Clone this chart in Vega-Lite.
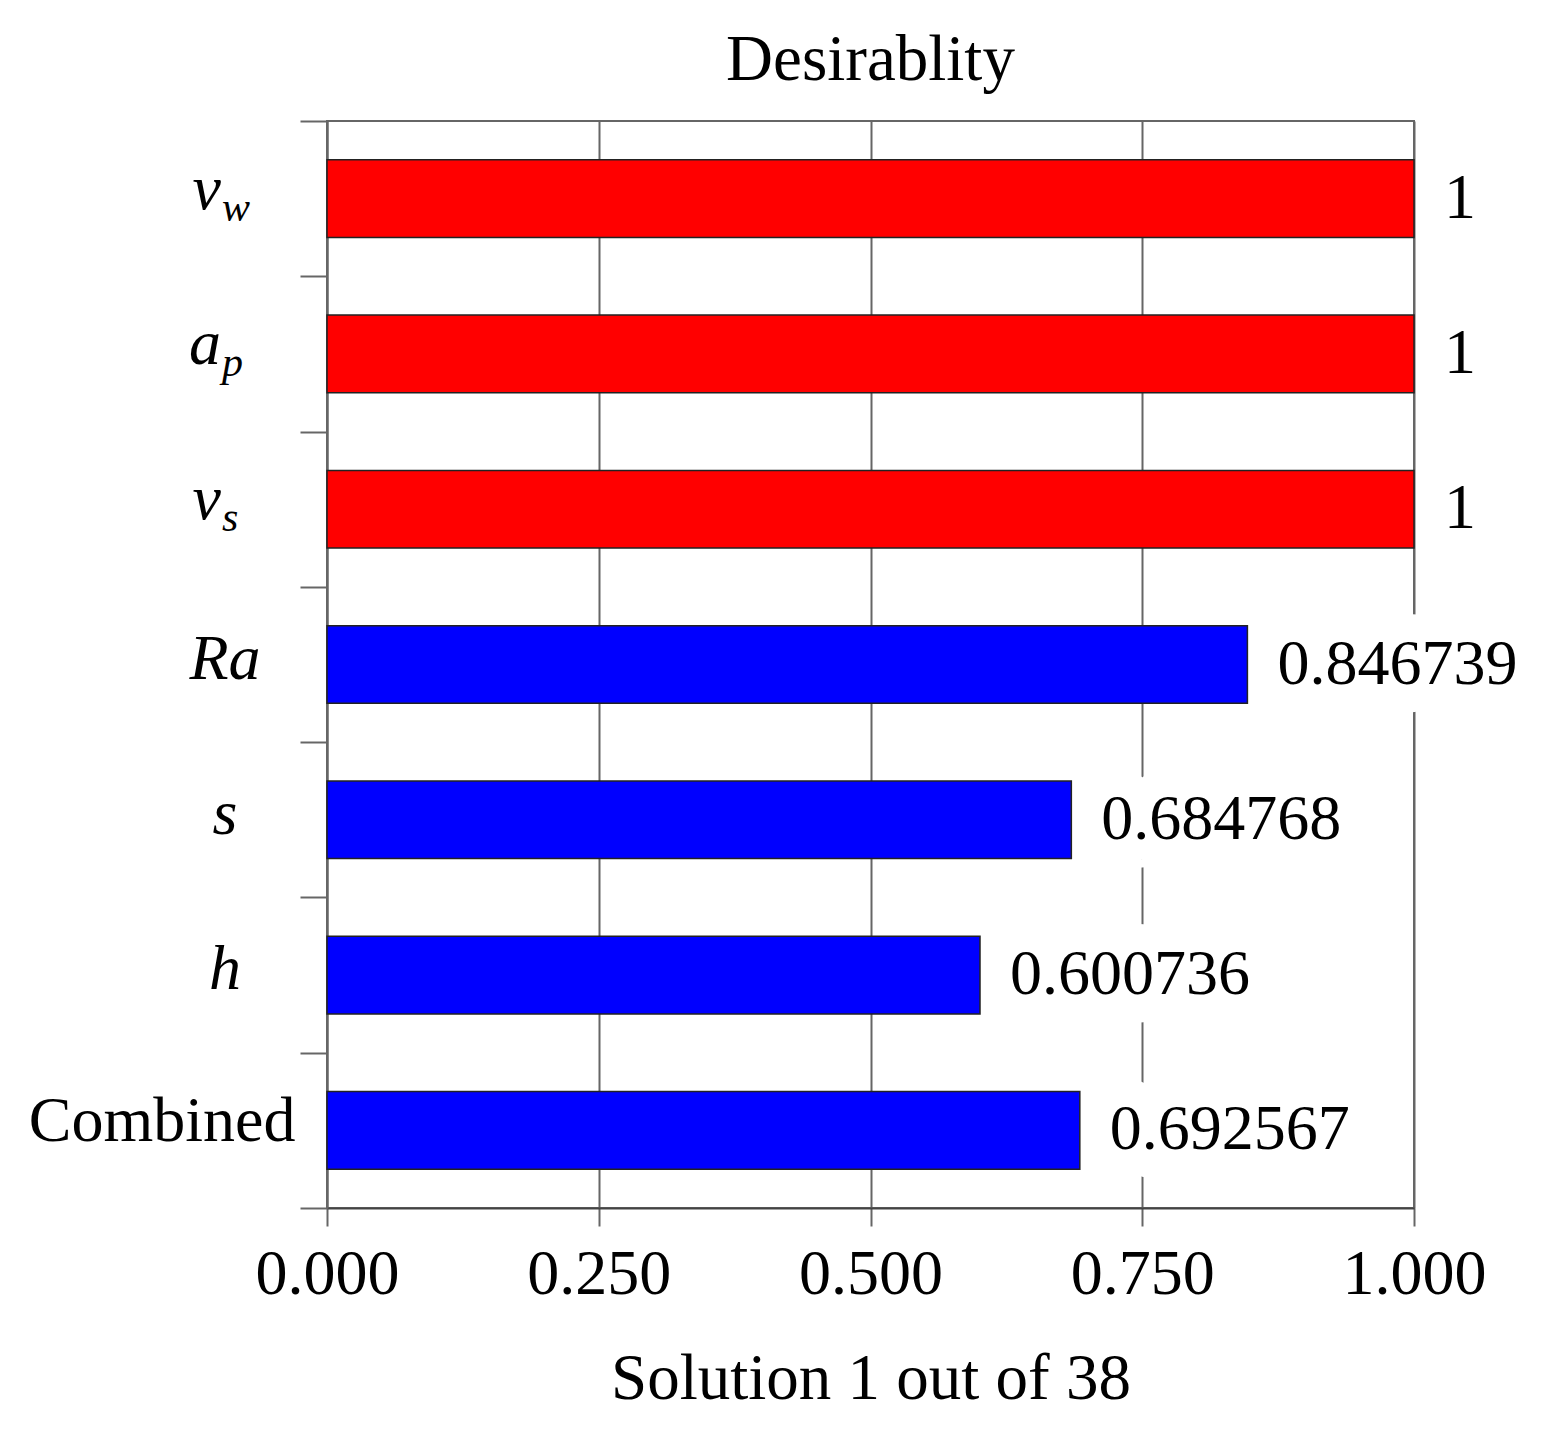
{
  "$schema": "https://vega.github.io/schema/vega-lite/v6.json",
  "width": 1087,
  "height": 1087,
  "padding": {"left": 28, "top": 28, "right": 10, "bottom": 10},
  "background": "white",
  "title": {
    "text": "Desirablity",
    "font": "Liberation Serif",
    "fontSize": 65,
    "fontWeight": "normal",
    "color": "black",
    "anchor": "middle",
    "offset": -24
  },
  "data": {
    "values": [
      {"label": "v_w", "sym": "v", "sub": "w", "kind": "factor", "value": 1},
      {"label": "a_p", "sym": "a", "sub": "p", "kind": "factor", "value": 1},
      {"label": "v_s", "sym": "v", "sub": "s", "kind": "factor", "value": 1},
      {"label": "Ra", "sym": "Ra", "sub": "", "kind": "response", "value": 0.846739},
      {"label": "s", "sym": "s", "sub": "", "kind": "response", "value": 0.684768},
      {"label": "h", "sym": "h", "sub": "", "kind": "response", "value": 0.600736},
      {"label": "Combined", "sym": "", "sub": "", "kind": "response", "value": 0.692567}
    ]
  },
  "encoding": {
    "y": {
      "field": "label",
      "type": "nominal",
      "sort": null,
      "scale": {
        "domain": ["v_w", "a_p", "v_s", "Ra", "s", "h", "Combined"],
        "paddingInner": 0,
        "paddingOuter": 0
      },
      "axis": {
        "title": null,
        "tickBand": "extent",
        "tickSize": 27,
        "tickWidth": 2,
        "tickColor": "#666",
        "domainColor": "#666",
        "domainWidth": 2,
        "labelExpr": "datum.value == 'Combined' ? 'Combined' : ''",
        "labelFont": "Liberation Serif",
        "labelFontSize": 64,
        "labelColor": "black",
        "labelLimit": 0,
        "labelPadding": 5,
        "labelBaseline": "alphabetic",
        "labelOffset": 10
      }
    }
  },
  "layer": [
    {
      "transform": [{"filter": "datum.value < 1"}],
      "mark": {"type": "text", "align": "left", "baseline": "middle", "dx": 30, "font": "Liberation Serif", "fontSize": 64, "fill": "white", "stroke": "white", "strokeWidth": 56, "strokeJoin": "round"},
      "encoding": {
        "x": {"field": "value", "type": "quantitative"},
        "text": {"field": "value", "type": "nominal"}
      }
    },
    {
      "mark": {"type": "bar", "height": {"band": 0.5}, "stroke": "#222", "strokeWidth": 1.5},
      "encoding": {
        "x": {
          "field": "value",
          "type": "quantitative",
          "scale": {"domain": [0, 1], "nice": false},
          "axis": {
            "values": [0, 0.25, 0.5, 0.75, 1],
            "format": ".3f",
            "grid": true,
            "gridColor": "#666",
            "gridWidth": 2,
            "tickSize": 18,
            "tickWidth": 2,
            "tickColor": "#666",
            "domainColor": "#444",
            "domainWidth": 2,
            "labelFont": "Liberation Serif",
            "labelFontSize": 64,
            "labelColor": "black",
            "labelPadding": 16,
            "labelFlush": false,
            "labelOverlap": false,
            "title": "Solution 1 out of 38",
            "titleFont": "Liberation Serif",
            "titleFontSize": 65,
            "titleFontWeight": "normal",
            "titleColor": "black",
            "titlePadding": 41
          }
        },
        "color": {
          "field": "kind",
          "type": "nominal",
          "scale": {"domain": ["factor", "response"], "range": ["#FF0000", "#0000FF"]},
          "legend": null
        }
      }
    },
    {
      "mark": {"type": "text", "align": "left", "baseline": "middle", "dx": 30, "font": "Liberation Serif", "fontSize": 64, "color": "black"},
      "encoding": {
        "x": {"field": "value", "type": "quantitative"},
        "text": {"field": "value", "type": "nominal"}
      }
    },
    {
      "transform": [{"filter": "datum.sub == '' && datum.sym != ''"}],
      "mark": {"type": "text", "align": "center", "baseline": "alphabetic", "dx": -102, "dy": 14, "font": "Liberation Serif", "fontStyle": "italic", "fontSize": 64, "color": "black"},
      "encoding": {
        "x": {"datum": 0},
        "text": {"field": "sym"}
      }
    },
    {
      "transform": [{"filter": "datum.sub != ''"}],
      "mark": {"type": "text", "align": "right", "baseline": "alphabetic", "dx": -106, "dy": 10, "font": "Liberation Serif", "fontStyle": "italic", "fontSize": 64, "color": "black"},
      "encoding": {
        "x": {"datum": 0},
        "text": {"field": "sym"}
      }
    },
    {
      "transform": [{"filter": "datum.sub != ''"}],
      "mark": {"type": "text", "align": "left", "baseline": "alphabetic", "dx": -105, "dy": 22, "font": "Liberation Serif", "fontStyle": "italic", "fontSize": 42, "color": "black"},
      "encoding": {
        "x": {"datum": 0},
        "text": {"field": "sub"}
      }
    }
  ],
  "config": {
    "view": {"stroke": "#666", "strokeWidth": 2}
  }
}
